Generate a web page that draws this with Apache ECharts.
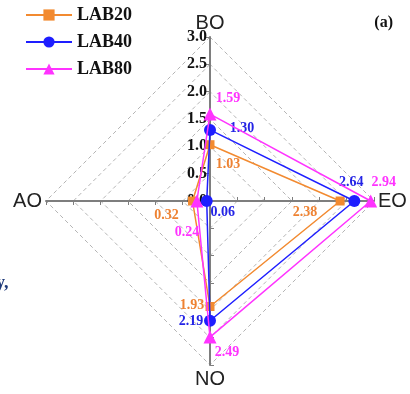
<!DOCTYPE html>
<html><head><meta charset="utf-8">
<script src="https://cdn.jsdelivr.net/npm/echarts@6/dist/echarts.min.js"></script>
<style>html,body{margin:0;padding:0;background:#fff}#c{width:410px;height:394px}</style>
</head><body><div id="c"></div>
<script>
// radar axes in drawing order (top, left, bottom, right)
var categories = ['BO', 'AO', 'NO', 'EO'];
var seriesNames = ['LAB20', 'LAB40', 'LAB80'];
var lab20 = [1.03, 0.32, 1.93, 2.38];
var lab40 = [1.30, 0.06, 2.19, 2.64];
var lab80 = [1.59, 0.24, 2.49, 2.94];
var tickValues = [0, 0.5, 1.0, 1.5, 2.0, 2.5, 3.0];

// styling / layout (not data)
var colors = ['#f28a30', '#1e1eff', '#ff33ff'];
var labelColors = ['#ee8232', '#2424e6', '#ff33ff'];
var symbols = ['rect', 'circle', 'triangle'];
var symbolSizes = [9, 12, 13];
var labelOffsets = [
  [[18, 20], [-26, 14], [-18, -1], [-35, 11]],
  [[32, -2], [16, 11], [-19, 1], [-3, -19]],
  [[18, -16], [-10, 31], [17, 15], [13, -19]]
];
var allData = [lab20, lab40, lab80];

var chart = echarts.init(document.getElementById('c'), null, {renderer: 'canvas'});
var serif = '"Liberation Serif", "Times New Roman", serif';

var series = [];
allData.forEach(function (vals, s) {
  var items = [{
    name: seriesNames[s],
    value: vals,
    symbol: symbols[s],
    symbolSize: symbolSizes[s],
    itemStyle: {color: colors[s]},
    lineStyle: {color: colors[s], width: 1.5},
    label: {show: false}
  }];
  categories.forEach(function (c, k) {
    items.push({
      name: seriesNames[s] + '_' + c,
      value: vals,
      symbol: 'circle',
      symbolSize: 1,
      itemStyle: {color: 'rgba(0,0,0,0)'},
      lineStyle: {width: 0, opacity: 0},
      label: {
        show: true, position: 'inside', offset: labelOffsets[s][k],
        color: labelColors[s], fontFamily: serif, fontWeight: 'bold', fontSize: 14,
        formatter: function (p) { return p.dimensionIndex === k ? Number(p.value).toFixed(2) : ''; }
      }
    });
  });
  series.push({type: 'radar', name: 'r' + s, z: 3 + s, silent: true, data: items});
  // legend proxy series (empty)
  series.push({
    type: 'line', name: seriesNames[s], data: [], xAxisIndex: 0, yAxisIndex: 0,
    symbol: symbols[s], symbolSize: symbolSizes[s],
    itemStyle: {color: colors[s]}, lineStyle: {color: colors[s], width: 1.5}
  });
});

chart.setOption({
  animation: false,
  title: {
    text: '(a)', right: 12, top: 10,
    textStyle: {fontFamily: serif, fontWeight: 'bold', fontSize: 16, color: '#111'}
  },
  legend: {
    data: seriesNames, orient: 'vertical', left: 20, top: 1,
    itemWidth: 46, itemHeight: 14, itemGap: 9,
    textStyle: {fontFamily: serif, fontWeight: 'bold', fontSize: 18, color: '#111'}
  },
  grid: {left: 210, top: 37, width: 10, height: 164},
  xAxis: {type: 'value', show: false, min: 0, max: 1},
  yAxis: {
    type: 'value', min: 0, max: 3, interval: 0.5,
    axisLine: {show: false}, axisTick: {show: false}, splitLine: {show: false},
    axisLabel: {
      margin: 3, fontFamily: serif, fontWeight: 'bold', fontSize: 16, color: '#111',
      formatter: function (v) { return tickValues.indexOf(v) >= 0 ? v.toFixed(1) : ''; }
    }
  },
  radar: {
    center: [210, 201], radius: 164, startAngle: 90, shape: 'polygon', splitNumber: 6,
    indicator: categories.map(function (n) { return {name: n, min: 0, max: 3}; }),
    axisName: {color: '#222', fontSize: 20, fontFamily: '"Liberation Sans", Arial, sans-serif'},
    nameGap: 4,
    axisLine: {lineStyle: {color: '#7e7e7e', width: 2}},
    axisTick: {show: true, length: 4, lineStyle: {color: '#7e7e7e'}},
    splitLine: {lineStyle: {color: '#b4b4b4', type: [4, 3], width: 1}},
    splitArea: {show: false}
  },
  graphic: [{
    type: 'text', left: -4, top: 274,
    style: {text: 'y,', fontFamily: serif, fontWeight: 'bold', fontSize: 18, fill: '#1f3a7a'}
  }],
  series: series
});
</script></body></html>
